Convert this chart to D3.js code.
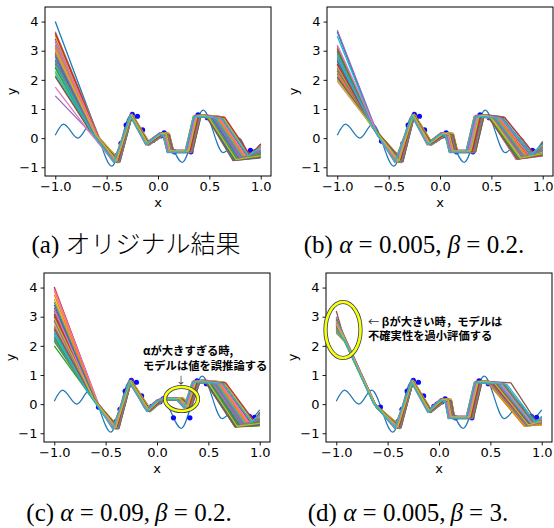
<!DOCTYPE html>
<html><head><meta charset="utf-8">
<script src="https://cdn.jsdelivr.net/npm/d3@7"></script>
<style>body{margin:0;background:#fff}svg{display:block}</style>
</head><body>
<script>
// ---------- data ----------
const xTicks=[-1.0,-0.5,0.0,0.5,1.0];
const yTicks=[-1,0,1,2,3,4];
const truthX=[-1.00,-0.92,-0.78,-0.655,-0.45,-0.26,-0.10,0.05,0.236,0.44,0.635,0.79,0.89,1.00];
const truthY=[0.10,0.48,0.00,0.48,-0.96,0.82,-0.20,0.18,-0.83,0.96,-0.50,0.00,-0.55,-0.20];
const dataX=[-0.57,-0.40,-0.36,-0.31,-0.25,-0.20,-0.15,-0.05,-0.02,0.03,0.06,0.16,0.32,0.39,0.48,0.90,0.95];
const dataY=[-0.10,-0.60,-0.18,0.45,0.82,0.75,0.28,-0.08,0.00,0.08,0.18,-0.47,-0.47,0.80,0.70,-0.42,-0.45];
const dxS=[0.00,0.02,-0.02,0.03,-0.01,0.01,-0.03,0.02,0.00,-0.02,0.03,-0.01,0.01,-0.03,0.02,0.00,-0.02,0.01,0.03,-0.01,0.02,-0.03,0.00,0.01,-0.02,0.03,-0.01,0.02,0.00,-0.03];
const dyS=[0.02,-0.03,0.00,0.04,-0.01,0.03,-0.04,0.01,-0.02,0.03,0.00,-0.03,0.02,-0.01,0.04,-0.02,0.01,-0.04,0.03,0.00,-0.02,0.02,-0.03,0.01,0.04,-0.01,0.00,-0.04,0.02,-0.02];
const midW=[1.0,0.3,0.6,1,1,1,1.2,1.2,0.5];

// panel (a)
const sA=[4.00,3.10,2.55,3.40,1.45,2.85,1.75,3.65,2.30,3.20,2.70,3.55,2.15,2.95,3.30,2.45,3.05,2.60,3.50,2.25,2.80,3.15,2.40,3.60,2.90,2.10,3.35,2.65,3.00,2.50];
const kxA=[-0.57,-0.61,-0.64,-0.59,-0.72,-0.62,-0.71,-0.57,-0.66,-0.60,-0.63,-0.58,-0.67,-0.62,-0.59,-0.65,-0.61,-0.64,-0.58,-0.66,-0.63,-0.60,-0.65,-0.58,-0.62,-0.67,-0.59,-0.64,-0.61,-0.65];
const kyA=[-0.05,0.11,0.22,0.06,0.42,0.16,0.40,0.01,0.26,0.09,0.19,0.03,0.29,0.14,0.08,0.23,0.12,0.21,0.04,0.27,0.17,0.10,0.24,0.02,0.15,0.30,0.07,0.20,0.13,0.22];
const midXA=[-0.40,-0.26,-0.10,0.04,0.08,0.12,0.30,0.38,0.44];
const midYA=[-0.80,0.78,-0.20,0.15,0.12,-0.46,-0.46,0.74,0.76];
const fallA=[0.50,0.58,0.48,0.62,0.53,0.48,0.60,0.55,0.49,0.64,0.52,0.57,0.48,0.61,0.54,0.49,0.59,0.51,0.63,0.56,0.48,0.58,0.50,0.65,0.53,0.48,0.60,0.55,0.49,0.62];
const troughXA=[0.78,0.85,0.75,0.88,0.80,0.74,0.86,0.82,0.77,0.89,0.79,0.84,0.74,0.87,0.81,0.76,0.86,0.78,0.88,0.83,0.75,0.85,0.77,0.90,0.80,0.73,0.86,0.82,0.76,0.88];
const troughYA=[-0.72,-0.66,-0.75,-0.62,-0.70,-0.76,-0.65,-0.68,-0.73,-0.60,-0.71,-0.67,-0.75,-0.63,-0.69,-0.74,-0.64,-0.72,-0.61,-0.67,-0.76,-0.66,-0.73,-0.60,-0.70,-0.77,-0.64,-0.68,-0.74,-0.62];
const endA=[-0.45,-0.30,-0.55,-0.25,-0.60,-0.50,-0.35,-0.40,-0.65,-0.22,-0.48,-0.33,-0.58,-0.28,-0.42,-0.62,-0.37,-0.52,-0.26,-0.44,-0.68,-0.31,-0.56,-0.20,-0.47,-0.66,-0.34,-0.41,-0.60,-0.29];

// panel (b)
const sB=[3.65,2.60,2.20,2.95,3.70,2.40,1.95,3.10,2.75,3.50,2.30,2.85,2.05,3.05,2.50,2.70,2.15,3.15,2.45,2.90,2.65,2.25,3.00,2.55,2.80,2.10,3.20,2.35,2.00,2.75];
const kxB=[-0.61,-0.64,-0.67,-0.62,-0.60,-0.65,-0.68,-0.62,-0.64,-0.61,-0.66,-0.63,-0.67,-0.62,-0.65,-0.64,-0.67,-0.61,-0.65,-0.63,-0.64,-0.66,-0.62,-0.65,-0.63,-0.67,-0.61,-0.66,-0.68,-0.64];
const kyB=[0.10,0.32,0.43,0.22,0.08,0.37,0.50,0.18,0.28,0.12,0.40,0.25,0.47,0.19,0.35,0.29,0.44,0.16,0.36,0.23,0.30,0.42,0.21,0.33,0.26,0.46,0.15,0.39,0.49,0.28];
const midXB=[-0.40,-0.26,-0.10,0.04,0.09,0.13,0.30,0.38,0.44];
const midYB=[-0.80,0.78,-0.20,0.15,0.12,-0.46,-0.46,0.74,0.76];
const fallB=[0.48,0.56,0.48,0.60,0.51,0.53,0.48,0.58,0.50,0.62,0.48,0.55,0.49,0.59,0.52,0.57,0.48,0.61,0.50,0.54,0.48,0.56,0.49,0.63,0.51,0.48,0.58,0.53,0.49,0.60];
const troughXB=[0.77,0.85,0.74,0.89,0.80,0.82,0.76,0.87,0.79,0.91,0.75,0.84,0.78,0.88,0.81,0.86,0.74,0.90,0.79,0.83,0.77,0.85,0.76,0.92,0.80,0.75,0.87,0.82,0.78,0.89];
const troughYB=[-0.70,-0.62,-0.72,-0.58,-0.66,-0.64,-0.71,-0.60,-0.68,-0.56,-0.72,-0.63,-0.69,-0.59,-0.67,-0.61,-0.73,-0.57,-0.68,-0.65,-0.70,-0.62,-0.71,-0.55,-0.66,-0.72,-0.60,-0.64,-0.69,-0.58];
const endB=[-0.40,-0.28,-0.55,-0.20,-0.48,-0.35,-0.60,-0.25,-0.45,-0.10,-0.58,-0.32,-0.50,-0.22,-0.42,-0.30,-0.62,-0.18,-0.47,-0.37,-0.52,-0.27,-0.56,-0.15,-0.44,-0.60,-0.24,-0.39,-0.53,-0.21];

// panel (c)
const sC=[3.10,3.90,2.00,4.02,2.70,3.30,3.95,2.45,3.60,2.25,2.90,3.75,2.15,3.20,2.55,3.00,2.35,3.50,2.80,2.50,3.40,2.65,2.30,3.05,2.85,2.60,3.25,2.20,2.95,2.40];
const kxC=[-0.61,-0.57,-0.68,-0.56,-0.64,-0.60,-0.56,-0.65,-0.58,-0.67,-0.63,-0.58,-0.67,-0.61,-0.65,-0.62,-0.66,-0.59,-0.63,-0.65,-0.60,-0.64,-0.66,-0.62,-0.63,-0.64,-0.61,-0.67,-0.62,-0.66];
const kyC=[0.15,-0.07,0.45,-0.10,0.26,0.09,-0.09,0.33,0.01,0.38,0.20,-0.03,0.41,0.12,0.30,0.18,0.35,0.04,0.23,0.31,0.07,0.27,0.37,0.16,0.22,0.29,0.11,0.40,0.19,0.34];
const midXC=[-0.40,-0.26,-0.08,0.02,0.08,0.22,0.30,0.38,0.44];
const midYC=[-0.82,0.78,-0.22,0.10,0.18,0.18,-0.10,0.76,0.78];
const fallC=[0.52,0.60,0.48,0.64,0.55,0.50,0.62,0.57,0.49,0.66,0.53,0.59,0.48,0.63,0.56,0.51,0.61,0.54,0.65,0.58,0.49,0.60,0.52,0.67,0.55,0.48,0.62,0.57,0.50,0.64];
const troughXC=[0.80,0.88,0.76,0.92,0.83,0.78,0.90,0.85,0.77,0.94,0.81,0.87,0.76,0.91,0.84,0.79,0.89,0.82,0.93,0.86,0.77,0.88,0.80,0.95,0.83,0.76,0.90,0.85,0.78,0.92];
const troughYC=[-0.74,-0.66,-0.78,-0.62,-0.72,-0.76,-0.64,-0.70,-0.77,-0.60,-0.73,-0.67,-0.78,-0.63,-0.71,-0.75,-0.65,-0.72,-0.61,-0.68,-0.77,-0.66,-0.74,-0.60,-0.71,-0.78,-0.64,-0.69,-0.76,-0.62];
const endC=[-0.55,-0.45,-0.70,-0.35,-0.60,-0.65,-0.40,-0.50,-0.72,-0.30,-0.58,-0.48,-0.75,-0.38,-0.52,-0.68,-0.42,-0.57,-0.33,-0.47,-0.70,-0.44,-0.62,-0.28,-0.54,-0.73,-0.40,-0.50,-0.66,-0.36];

// panel (d)
const sD=[2.75,2.60,2.90,2.50,3.00,3.20,2.95,2.55,2.80,2.65,2.70,2.85,2.45,2.62,2.78,2.52,2.88,2.68,2.58,2.82,2.72,2.48,2.92,2.66,2.56,2.76,2.84,2.64,2.74,2.54];
const k1xD=[-0.93,-0.92,-0.93,-0.92,-0.93,-0.94,-0.93,-0.92,-0.93,-0.92,-0.93,-0.93,-0.92,-0.92,-0.93,-0.92,-0.93,-0.92,-0.92,-0.93,-0.93,-0.92,-0.93,-0.92,-0.92,-0.93,-0.93,-0.92,-0.93,-0.92];
const k1yD=[2.30,2.22,2.38,2.18,2.40,2.45,2.36,2.20,2.32,2.25,2.28,2.34,2.15,2.24,2.31,2.19,2.37,2.27,2.21,2.33,2.29,2.16,2.39,2.26,2.20,2.30,2.35,2.23,2.29,2.18];
const k2xD=[-0.62,-0.63,-0.61,-0.64,-0.60,-0.60,-0.61,-0.63,-0.62,-0.63,-0.62,-0.61,-0.64,-0.63,-0.62,-0.63,-0.61,-0.62,-0.63,-0.61,-0.62,-0.64,-0.61,-0.62,-0.63,-0.62,-0.61,-0.63,-0.62,-0.64];
const k2yD=[-0.04,0.02,-0.10,0.04,-0.14,-0.16,-0.11,0.03,-0.06,0.00,-0.03,-0.08,0.06,0.01,-0.05,0.03,-0.10,-0.02,0.02,-0.07,-0.04,0.05,-0.12,-0.01,0.03,-0.05,-0.09,0.00,-0.03,0.04];
const midXD=[-0.40,-0.26,-0.09,0.04,0.09,0.12,0.30,0.38,0.44];
const midYD=[-0.80,0.78,-0.25,0.15,0.12,-0.46,-0.46,0.74,0.76];
const fallD=[0.55,0.50,0.60,0.48,0.64,0.70,0.58,0.52,0.56,0.49,0.54,0.62,0.48,0.51,0.57,0.50,0.61,0.53,0.49,0.59,0.55,0.48,0.63,0.52,0.50,0.56,0.60,0.51,0.54,0.66];
const troughXD=[0.88,0.85,0.91,0.84,0.93,0.95,0.90,0.86,0.89,0.84,0.87,0.92,0.83,0.85,0.89,0.85,0.91,0.87,0.84,0.90,0.88,0.83,0.92,0.86,0.85,0.88,0.91,0.86,0.87,0.94];
const troughYD=[-0.70,-0.74,-0.66,-0.75,-0.64,-0.62,-0.68,-0.73,-0.70,-0.76,-0.71,-0.66,-0.75,-0.73,-0.69,-0.74,-0.67,-0.72,-0.76,-0.68,-0.70,-0.75,-0.65,-0.72,-0.74,-0.69,-0.67,-0.73,-0.71,-0.63];
const endD=[-0.55,-0.62,-0.48,-0.66,-0.45,-0.42,-0.52,-0.60,-0.56,-0.68,-0.58,-0.50,-0.70,-0.63,-0.54,-0.65,-0.49,-0.59,-0.67,-0.51,-0.57,-0.72,-0.46,-0.61,-0.64,-0.55,-0.50,-0.62,-0.58,-0.44];

const captions=[
  [["(a) ",0],["オリジナル結果",2]],
  [["(b) ",0],["α",1],[" = 0.005, ",0],["β",1],[" = 0.2.",0]],
  [["(c) ",0],["α",1],[" = 0.09,\u2009",0],["β",1],[" = 0.2.",0]],
  [["(d) ",0],["α",1],[" = 0.005,\u2009",0],["β",1],[" = 3.",0]]
];
const tab10=["#1f77b4","#ff7f0e","#2ca02c","#d62728","#9467bd","#8c564b","#e377c2","#7f7f7f","#bcbd22","#17becf"];

// ---------- drawing ----------
const W=554,H=528;
const svg=d3.select("body").append("svg").attr("width",W).attr("height",H);
svg.append("rect").attr("width",W).attr("height",H).attr("fill","#fff");

const panels=[
  {id:"a",left:45,top:7,s:sA,knees:[[kxA,kyA]],midX:midXA,midY:midYA,fall:fallA,tx:troughXA,ty:troughYA,end:endA,fallY:0.70,spread:1.0,cap:captions[0],capX:136,capY:253},
  {id:"b",left:327,top:7,s:sB,knees:[[kxB,kyB]],midX:midXB,midY:midYB,fall:fallB,tx:troughXB,ty:troughYB,end:endB,fallY:0.70,spread:1.3,cap:captions[1],capX:414,capY:253},
  {id:"c",left:44,top:273,s:sC,knees:[[kxC,kyC]],midX:midXC,midY:midYC,fall:fallC,tx:troughXC,ty:troughYC,end:endC,fallY:0.72,spread:1.0,cap:captions[2],capX:129,capY:521},
  {id:"d",left:326,top:273,s:sD,knees:[[k1xD,k1yD],[k2xD,k2yD]],midX:midXD,midY:midYD,fall:fallD,tx:troughXD,ty:troughYD,end:endD,fallY:0.70,spread:1.0,cap:captions[3],capX:408,capY:521}
];
const PW=226,PH=169;
const tickFont="'DejaVu Sans', sans-serif";

panels.forEach(p=>{
  const x=d3.scaleLinear().domain([-1.1,1.1]).range([p.left,p.left+PW]);
  const y=d3.scaleLinear().domain([-1.3,4.5]).range([p.top+PH,p.top]);
  const g=svg.append("g");
  const cid="clip-"+p.id;
  svg.append("clipPath").attr("id",cid).append("rect").attr("x",p.left).attr("y",p.top).attr("width",PW).attr("height",PH);
  const plot=g.append("g").attr("clip-path",`url(#${cid})`);
  const lineGen=d3.line().x(d=>x(d[0])).y(d=>y(d[1]));

  // truth curve
  plot.append("path").datum(d3.zip(truthX,truthY))
    .attr("d",d3.line().x(d=>x(d[0])).y(d=>y(d[1])).curve(d3.curveMonotoneX))
    .attr("fill","none").attr("stroke","#1f77b4").attr("stroke-width",1.2);
  // data points
  plot.selectAll("circle.pt").data(d3.zip(dataX,dataY)).enter().append("circle")
    .attr("cx",d=>x(d[0])).attr("cy",d=>y(d[1])).attr("r",2.6).attr("fill","#0a0aff");
  // ensemble
  p.s.forEach((s,i)=>{
    const pts=[[-1,s]];
    p.knees.forEach(k=>pts.push([k[0][i],k[1][i]]));
    p.midX.forEach((mx,j)=>pts.push([mx+dxS[i]*midW[j]*p.spread,p.midY[j]+dyS[i]]));
    pts.push([p.fall[i],p.fallY+dyS[i]]);
    pts.push([p.tx[i],p.ty[i]]);
    pts.push([1.0,p.end[i]]);
    plot.append("path").datum(pts).attr("d",lineGen)
      .attr("fill","none").attr("stroke",tab10[i%10]).attr("stroke-width",1.3).attr("stroke-linejoin","round");
  });

  // axes
  const ax=g.append("g").attr("transform",`translate(0,${p.top+PH})`)
    .call(d3.axisBottom(x).tickValues(xTicks).tickFormat(d3.format(".1f")).tickSize(3.5).tickPadding(2.5));
  const ay=g.append("g").attr("transform",`translate(${p.left},0)`)
    .call(d3.axisLeft(y).tickValues(yTicks).tickFormat(d3.format("d")).tickSize(3.5).tickPadding(3));
  [ax,ay].forEach(a=>{
    a.select(".domain").remove();
    a.selectAll("line").attr("stroke","#000").attr("stroke-width",0.9);
    a.selectAll("text").attr("font-family",tickFont).attr("font-size",13).attr("fill","#000");
  });
  g.append("rect").attr("x",p.left).attr("y",p.top).attr("width",PW).attr("height",PH)
    .attr("fill","none").attr("stroke","#000").attr("stroke-width",1);
  g.append("text").attr("x",p.left+PW/2).attr("y",p.top+PH+31).attr("text-anchor","middle")
    .attr("font-family",tickFont).attr("font-size",13).text("x");
  g.append("text").attr("transform",`translate(${p.left-29},${p.top+PH/2}) rotate(-90)`).attr("text-anchor","middle")
    .attr("font-family",tickFont).attr("font-size",13).text("y");

  // caption
  const cap=svg.append("text").attr("x",p.capX).attr("y",p.capY).attr("text-anchor","middle")
    .attr("font-family","'Liberation Serif', serif").attr("font-size",25).attr("fill","#000")
    .attr("xml:space","preserve");
  p.cap.forEach(([t,k])=>{
    const ts=cap.append("tspan").text(t);
    if(k===1) ts.attr("font-style","italic");
    if(k===2) ts.attr("font-family","'Noto Sans CJK JP', sans-serif").attr("font-weight",300);
  });
});

// annotations
const jp="'Noto Sans CJK JP', sans-serif";
function ring(cx,cy,rx,ry){
  svg.append("ellipse").attr("cx",cx).attr("cy",cy).attr("rx",rx).attr("ry",ry)
    .attr("fill","none").attr("stroke","#2b3f66").attr("stroke-width",4.2);
  svg.append("ellipse").attr("cx",cx).attr("cy",cy).attr("rx",rx).attr("ry",ry)
    .attr("fill","none").attr("stroke","#ffff00").attr("stroke-width",2.6);
}
ring(181.5,399,16.5,12);
ring(343,330,17.5,28);
svg.append("text").attr("x",143).attr("y",355).attr("font-family",jp).attr("font-weight",700)
  .attr("font-size",11.3).text("αが大きすぎる時,");
svg.append("text").attr("x",143).attr("y",370).attr("font-family",jp).attr("font-weight",700)
  .attr("font-size",11.3).text("モデルは値を誤推論する");
svg.append("text").attr("x",181).attr("y",384).attr("text-anchor","middle").attr("font-family",jp)
  .attr("font-size",10).attr("fill","#333").text("↓");
const t1=svg.append("text").attr("x",368).attr("y",325.5).attr("font-family",jp).attr("font-size",11.3);
t1.append("tspan").attr("fill","#333").text("← ");
t1.append("tspan").attr("font-weight",700).text("βが大きい時，モデルは");
svg.append("text").attr("x",368).attr("y",340).attr("font-family",jp).attr("font-weight",700)
  .attr("font-size",11.3).text("不確実性を過小評価する");
</script>
</body></html>
